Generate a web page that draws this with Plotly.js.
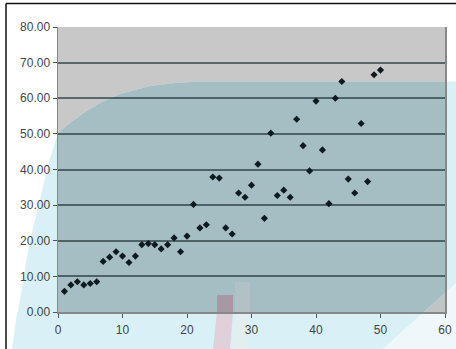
<!DOCTYPE html>
<html>
<head>
<meta charset="utf-8">
<script src="https://cdn.plot.ly/plotly-3.0.1.min.js"></script>
<style>html,body{margin:0;padding:0;background:#fff;}#chart{width:456px;height:349px;}</style>
</head>
<body>
<div id="chart"></div>
<script>
// ---- data ----
const xValues = [1,2,3,4,5,6,7,8,9,10,11,12,13,14,15,16,17,18,19,20,21,22,23,24,25,26,27,28,29,30,31,32,33,34,35,36,37,38,39,40,41,42,43,44,45,46,47,48,49,50];
const yValues = [5.8,7.6,8.5,7.6,8.0,8.5,14.2,15.4,16.9,15.7,13.9,15.7,18.9,19.2,18.9,17.7,18.9,20.8,16.9,21.3,30.2,23.6,24.5,37.9,37.6,23.6,21.9,33.4,32.2,35.6,41.5,26.3,50.2,32.7,34.2,32.2,54.1,46.7,39.6,59.2,45.5,30.4,60.0,64.7,37.3,33.4,52.9,36.6,66.6,67.9];
const xTickVals = [0,10,20,30,40,50,60];
const yTickVals = [0,10,20,30,40,50,60,70,80];

// ---- layout geometry (pixels) ----
const L = 58, R = 11, T = 27, B = 37, FW = 456, FH = 349;
const PW = FW - L - R, PH = FH - T - B;
const XR = [0, 60], YR = [0, 80];
const px2paperX = p => (p - L) / PW;
const px2paperY = p => (T + PH - p) / PH;
const px2dataX = p => XR[0] + px2paperX(p) * (XR[1] - XR[0]);
const px2dataY = p => YR[0] + px2paperY(p) * (YR[1] - YR[0]);
function pathFrom(pts, fx, fy) {
  return pts.map((p, i) => (i ? 'L' : 'M') + fx(p[0]).toFixed(4) + ',' + fy(p[1]).toFixed(4)).join(' ') + ' Z';
}
// decorative background watermark (pixels)
const wm = [[12,349],[16,320],[20,300],[27,257],[33,228],[40,200],[48,165],[58,133],[70,123],[85,112],[100,103],[120,94],[150,86],[175,83],[200,81.5],[456,81.5],[456,283],[383,349]];
const tri = [[383,349],[456,283],[456,349]];
const pinkOut = [[217,312],[233,312],[230,349],[213,349]];
const pinkIn = [[217,295],[233,295],[233,312],[217,312]];
const grayOut = [[235,312],[250,312],[248,349],[233,349]];
const grayIn = [[235,282],[250,282],[250,312],[235,312]];

const paperShape = (pts, color) => ({type:'path', xref:'paper', yref:'paper', layer:'below', path: pathFrom(pts, px2paperX, px2paperY), fillcolor: color, line:{width:0}});
const dataShape = (pts, color) => ({type:'path', xref:'x', yref:'y', layer:'below', path: pathFrom(pts, px2dataX, px2dataY), fillcolor: color, line:{width:0}});
const lineShape = (x0,y0,x1,y1) => ({type:'line', xref:'paper', yref:'paper', layer:'above', x0:px2paperX(x0), y0:px2paperY(y0), x1:px2paperX(x1), y1:px2paperY(y1), line:{color:'#111', width:1.5}});

const shapes = [
  paperShape(wm, '#d8f0f6'),
  paperShape(tri, '#eef7fa'),
  paperShape(pinkOut, '#e0d0da'),
  paperShape(grayOut, '#e3eef1'),
  dataShape(wm, '#a5bec4'),
  dataShape(tri, '#bfc4c5'),
  dataShape(pinkIn, '#a898a5'),
  dataShape(grayIn, '#b1c2c6'),
  lineShape(6, 3.5, 456, 3.5),
  lineShape(6, 3.5, 6, 349)
];

const trace = {
  x: xValues, y: yValues, type: 'scatter', mode: 'markers',
  marker: {symbol: 'diamond', size: 5.5, color: '#0f1a1e'},
  hoverinfo: 'skip'
};

const layout = {
  width: FW, height: FH,
  margin: {l: L, r: R, t: T, b: B, pad: 0},
  paper_bgcolor: '#ffffff',
  plot_bgcolor: '#c8c8c8',
  showlegend: false,
  font: {family: '"Liberation Sans", Arial, sans-serif', size: 12, color: '#444'},
  xaxis: {
    range: XR, tickvals: xTickVals, ticktext: xTickVals.map(String),
    showgrid: false, zeroline: false,
    showline: true, linecolor: '#888', linewidth: 1.5,
    ticks: 'outside', ticklen: 4, tickcolor: '#555', tickwidth: 1,
    ticklabelstandoff: 2
  },
  yaxis: {
    range: YR, tickvals: yTickVals, ticktext: yTickVals.map(v => v.toFixed(2)),
    showgrid: true, gridcolor: 'rgba(30,50,55,0.65)', gridwidth: 2,
    zeroline: false,
    showline: true, mirror: true, linecolor: '#888', linewidth: 1.5,
    ticks: 'outside', ticklen: 4, tickcolor: '#555', tickwidth: 1
  },
  shapes: shapes
};

Plotly.newPlot('chart', [trace], layout, {staticPlot: true, displayModeBar: false});
</script>
</body>
</html>
